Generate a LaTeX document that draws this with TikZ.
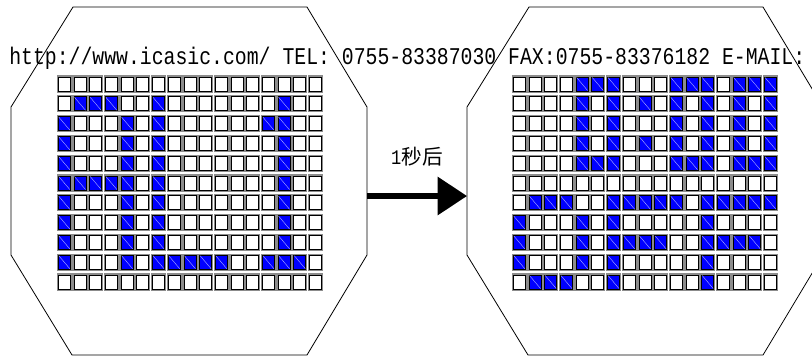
\documentclass[tikz,border=0pt]{standalone}
\usepackage{fontspec}
\newfontfamily\monofont[FakeStretch=0.825]{Liberation Mono}
\newfontfamily\cjkfont{Noto Sans CJK SC}
\usetikzlibrary{arrows.meta}

\tikzset{
  frame/.style={draw=black, line width=0.6pt},
  dotoff/.style={draw=black!45, fill=white, line width=1pt},
  doton/.style={draw=black!45, fill=blue, line width=1pt},
  dotedge/.style={draw=black, line width=0.5pt},
  dotglint/.style={draw=blue!30!white, line width=0.3pt},
  nextframe/.style={line width=3.8pt, -{Triangle[length=22pt, width=28pt]}},
}

% 17 x 11 dot matrix, #1 = left edge, #2 = lit dots per row
\newcommand{\dotmatrix}[2]{
  \foreach \r in {0,...,10}
    \foreach \c in {0,...,16} {
      \path[dotoff] (#1+15.7*\c,76+19.8*\r) rectangle ++(14,16);
      \path[dotedge] (#1+15.7*\c+1,77+19.8*\r) rectangle ++(12,14);
    }
  \foreach \r/\cols in {#2}
    \foreach \c in \cols {
      \path[doton] (#1+15.7*\c,76+19.8*\r) rectangle ++(14,16);
      \path[dotedge] (#1+15.7*\c+1,77+19.8*\r) rectangle ++(12,14);
      \path[dotglint] (#1+15.7*\c+1.5,77.5+19.8*\r) -- ++(11,13);
    }
}

\begin{document}
\begin{tikzpicture}[x=0.75pt, y=-0.75pt]
\useasboundingbox (0,0) rectangle (812,362);
\clip (0,0) rectangle (812,362);

% panels
\draw[frame] (73,7) -- (307,7) -- (367,107) -- (367,255) -- (307,355) -- (72,355) -- (11,255) -- (11,107) -- cycle;
\draw[frame] (529,7) -- (763,7) -- (823,107) -- (823,255) -- (763,355) -- (528,355) -- (467,255) -- (467,107) -- cycle;

\node[anchor=base west, inner sep=0pt, font=\monofont\fontsize{18}{20}\selectfont] (contact) at (9,64)
  {http://www.icasic.com/ TEL: 0755-83387030 FAX:0755-83376182 E-MAIL:};

\dotmatrix{57.3}{1/{1,2,3,6,14},2/{0,4,6,13,14},3/{0,4,6,14},4/{0,4,6,14},5/{0,1,2,3,4,6,14},6/{0,4,6,14},7/{0,4,6,14},8/{0,4,6,14},9/{0,4,6,7,8,9,10,13,14,15}}
\dotmatrix{512.3}{0/{4,5,6,10,11,12,14,15,16},1/{4,6,8,10,12,14,16},2/{4,6,10,12,14,16},3/{4,6,8,10,12,14,16},4/{4,5,6,10,11,12,14,15,16},6/{1,2,3,6,7,8,9,10,12,13,14,15,16},7/{0,4,6,12},8/{0,4,6,7,8,9,12,13,14,15},9/{0,4,6,12},10/{1,2,3,6,12}}

% arrow between panels
\coordinate (before) at (367,196);
\coordinate (after) at (467,196);
\draw[nextframe] (before) -- (after);
\node[font=\fontsize{15.5}{17}\selectfont] (delay) at (417,157) {{\monofont 1}{\cjkfont 秒后}};
\end{tikzpicture}
\end{document}
